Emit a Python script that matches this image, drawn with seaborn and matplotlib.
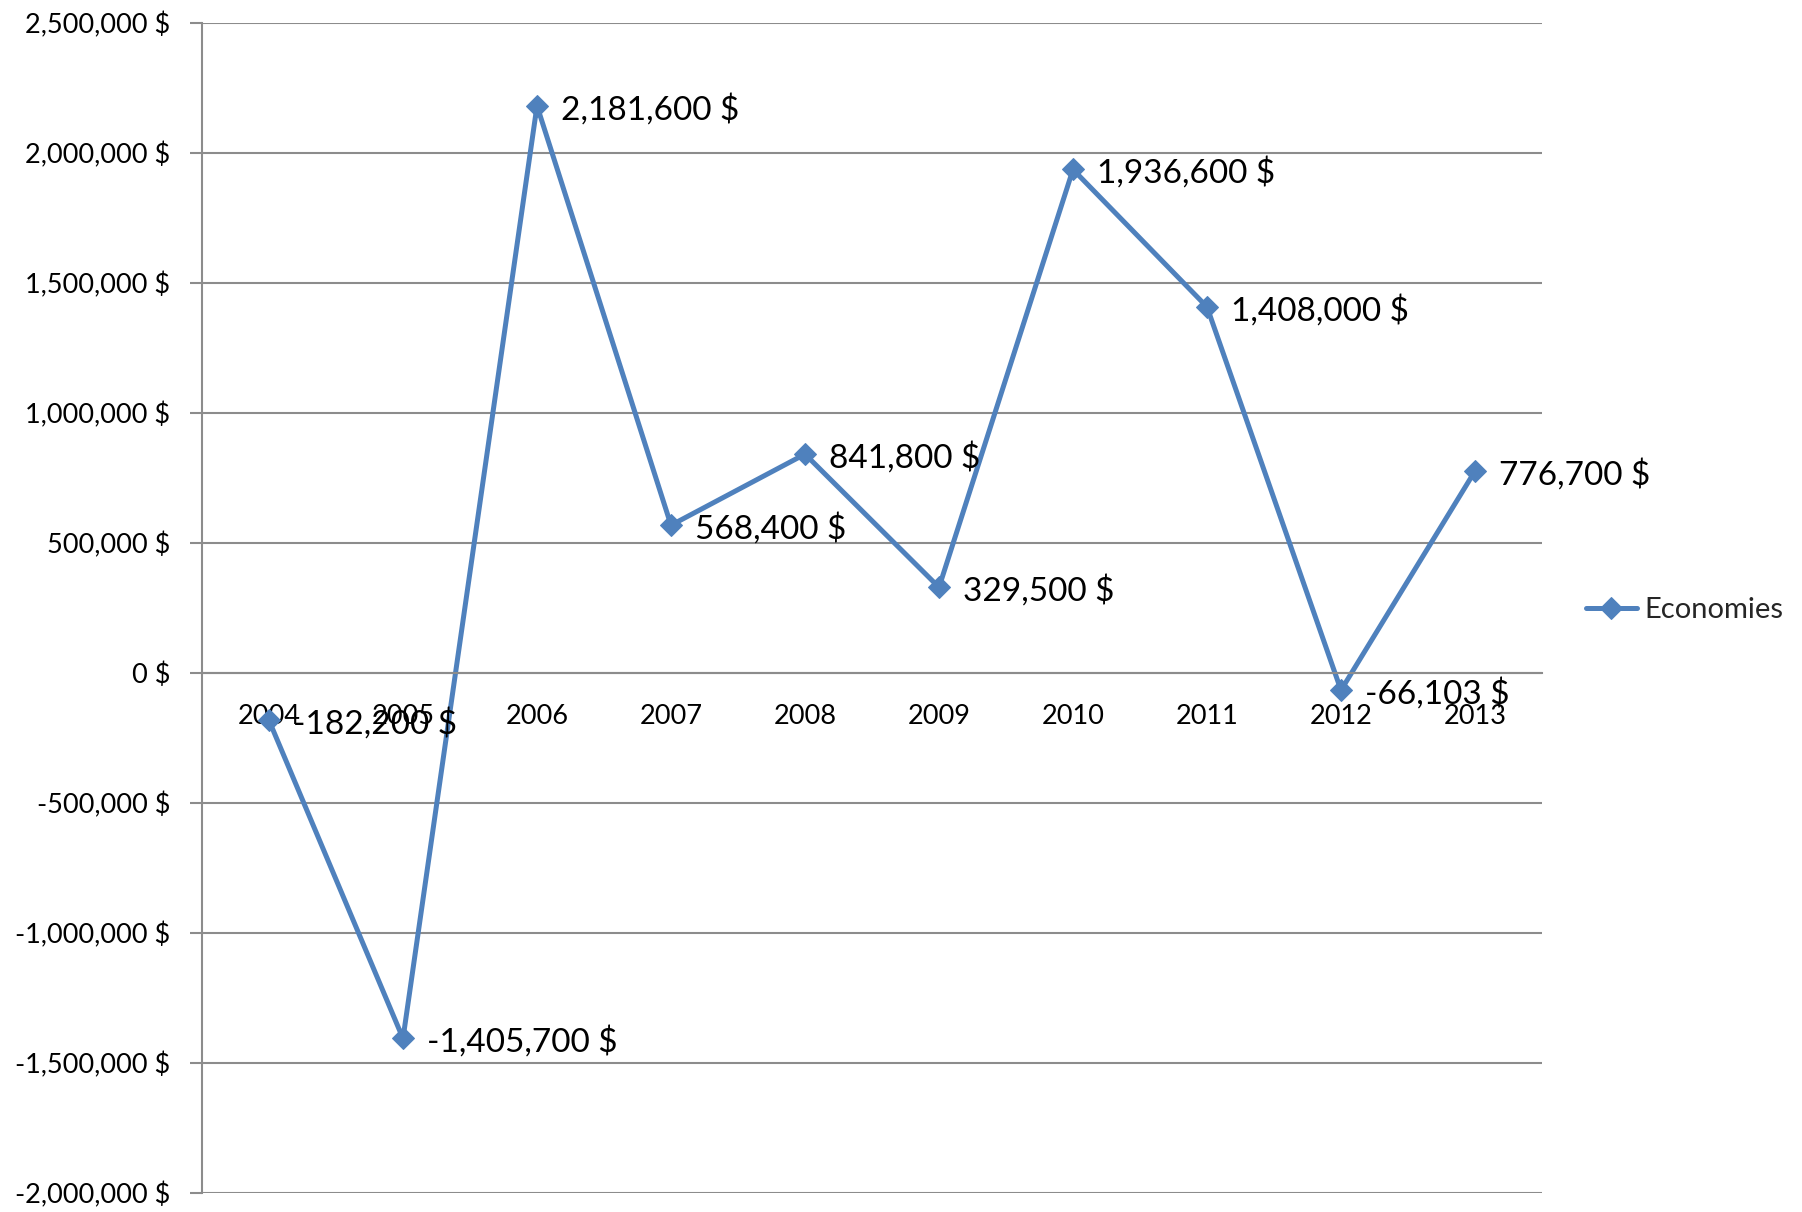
import matplotlib
matplotlib.use("Agg")
import matplotlib.pyplot as plt
import seaborn as sns
import pandas as pd
from matplotlib.ticker import FuncFormatter, MultipleLocator, FixedLocator

years = ["2004", "2005", "2006", "2007", "2008", "2009", "2010", "2011", "2012", "2013"]
economies = [-182200, -1405700, 2181600, 568400, 841800, 329500, 1936600, 1408000, -66103, 776700]
series_name = "Economies"

sns.set_theme(style="white")
plt.rcParams['font.family'] = ['Lato', 'DejaVu Sans']

BLUE = "#4F81BD"
GRID = "#8C8C8C"

df = pd.DataFrame({"x": list(range(len(years))), "y": economies})

fig = plt.figure(figsize=(18.02, 12.12), dpi=100)
ax = fig.add_axes([202/1802, 1-1193/1212, (1542-202)/1802, (1193-23)/1212])

sns.lineplot(data=df, x="x", y="y", ax=ax, color=BLUE, linewidth=3.6,
             marker="D", markersize=11, markeredgecolor=BLUE, label=series_name)

ax.set_xlim(-0.5, len(years) - 0.5)
ax.set_ylim(-2000000, 2500000)
ax.yaxis.set_major_locator(MultipleLocator(500000))
ax.yaxis.set_major_formatter(FuncFormatter(lambda v, p: f"{int(v):,} $"))
ax.grid(axis="y", color=GRID, linewidth=1.5)
ax.set_axisbelow(True)

for s in ["top", "right"]:
    ax.spines[s].set_visible(False)
ax.spines["left"].set_color(GRID)
ax.spines["left"].set_linewidth(1.5)
ax.spines["bottom"].set_color(GRID)
ax.spines["bottom"].set_linewidth(1.5)
ax.spines["bottom"].set_position(("data", 0))

ax.set_xticks(range(len(years)))
ax.set_xticklabels(years)
ax.xaxis.set_minor_locator(FixedLocator([i - 0.5 for i in range(len(years) + 1)]))
ax.tick_params(axis="x", which="major", length=0, pad=22, labelsize=19.5, labelcolor="black")
ax.tick_params(axis="x", which="minor", length=9, width=1.5, color=GRID, direction="out")
ax.tick_params(axis="y", which="major", length=9, width=1.5, color=GRID, direction="out",
               pad=14, labelsize=19.5, labelcolor="black", left=True)
ax.set_xlabel("")
ax.set_ylabel("")

for i, v in enumerate(economies):
    ax.annotate(f"{v:,} $", (i, v), xytext=(17, -2.5), textcoords="offset points",
                va="center", ha="left", fontsize=24, color="black")

leg = ax.legend(loc="center left", bbox_to_anchor=(1.013, 0.498), frameon=False,
                fontsize=21, handlelength=1.75, handletextpad=0.25)

fig.savefig("out.png", dpi=100)
